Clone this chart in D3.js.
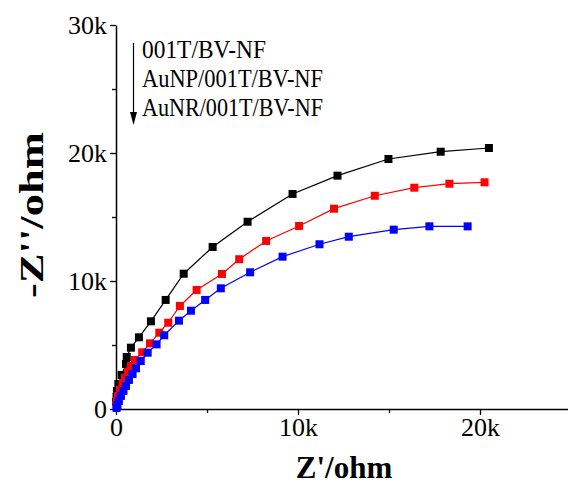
<!DOCTYPE html>
<html>
<head>
<meta charset="utf-8">
<script src="https://cdn.jsdelivr.net/npm/d3@7"></script>
<style>
  html, body { margin: 0; padding: 0; background: #fff; }
  svg { display: block; }
  text { font-family: "Liberation Serif", "Times New Roman", serif; }
</style>
</head>
<body>
<script>
// ---- Data (Z' in ohm, -Z'' in ohm) ----
const seriesNames = ["001T/BV-NF", "AuNP/001T/BV-NF", "AuNR/001T/BV-NF"];
const seriesColors = ["#000000", "#ff0000", "#0000ff"];

const blackX = [20490, 17840, 14970, 12170, 9700, 7230, 5310, 3720, 2730, 1920, 1260, 820, 590, 550, 310, 130, 50, 30, 10];
const blackY = [20390, 20100, 19530, 18230, 16800, 14630, 12660, 10570, 8520, 6850, 5600, 4790, 4060, 3520, 2660, 1950, 1400, 940, 550];

const redX = [20250, 18320, 16390, 14220, 11980, 10060, 8250, 6770, 5820, 4430, 3510, 2870, 2380, 1870, 1440, 1040, 820, 660, 490, 360, 220, 110, 50, 30];
const redY = [17710, 17600, 17290, 16660, 15650, 14300, 13130, 11700, 10550, 9300, 8050, 6740, 5960, 5130, 4430, 3830, 3360, 2890, 2420, 1950, 1480, 1020, 630, 310];

const blueX = [19320, 17220, 15260, 12790, 11180, 9150, 7370, 5760, 4900, 4120, 3460, 2650, 2230, 1740, 1360, 1100, 910, 710, 550, 410, 270, 160, 80, 30];
const blueY = [14270, 14270, 14010, 13460, 12870, 11900, 10680, 9430, 8520, 7680, 6900, 5760, 5050, 4400, 3750, 3180, 2730, 2270, 1800, 1410, 1020, 630, 310, 80];

const xTicks = [0, 10000, 20000];
const xMinorTicks = [5000, 15000];
const yTicks = [0, 10000, 20000, 30000];
const yMinorTicks = [5000, 15000, 25000];
const xTitle = "Z'/ohm";
const yTitle = "-Z''/ohm";

const W = 568, H = 484;
const svg = d3.select("body").append("svg").attr("width", W).attr("height", H);

const x = d3.scaleLinear().domain([0, 25000]).range([116, 571]);
const y = d3.scaleLinear().domain([0, 30000]).range([409, 25]);
const fmt = d => d === 0 ? "0" : (d / 1000) + "k";

// axes
const xAxis = svg.append("g").attr("transform", `translate(0,${y(0)})`)
  .call(d3.axisBottom(x).tickValues(xTicks).tickFormat(fmt).tickSize(6).tickSizeOuter(0).tickPadding(3));
const xMinor = svg.append("g").attr("transform", `translate(0,${y(0)})`)
  .call(d3.axisBottom(x).tickValues(xMinorTicks).tickFormat("").tickSize(4).tickSizeOuter(0));
const yAxis = svg.append("g").attr("transform", `translate(${x(0)},0)`)
  .call(d3.axisLeft(y).tickValues(yTicks).tickFormat(fmt).tickSize(6).tickSizeOuter(0).tickPadding(3));
const yMinor = svg.append("g").attr("transform", `translate(${x(0)},0)`)
  .call(d3.axisLeft(y).tickValues(yMinorTicks).tickFormat("").tickSize(4).tickSizeOuter(0));

[xAxis, xMinor, yAxis, yMinor].forEach(g => {
  g.selectAll("path.domain").attr("stroke", "#000").attr("stroke-width", 1.5);
  g.selectAll(".tick line").attr("stroke", "#000").attr("stroke-width", 1.3);
  g.selectAll(".tick text").attr("font-family", "Liberation Serif").attr("font-size", 26).attr("fill", "#000");
});
xMinor.select("path.domain").remove();
yMinor.select("path.domain").remove();

// series
const allX = [blackX, redX, blueX];
const allY = [blackY, redY, blueY];
const line = d3.line().x(d => x(d[0])).y(d => y(d[1]));
const ms = 8;
allX.forEach((xs, i) => {
  const pts = xs.map((v, j) => [v, allY[i][j]]);
  const g = svg.append("g");
  g.append("path").datum(pts).attr("d", line).attr("fill", "none")
    .attr("stroke", seriesColors[i]).attr("stroke-width", 1.2);
  g.selectAll("rect").data(pts).join("rect")
    .attr("x", d => x(d[0]) - ms / 2).attr("y", d => y(d[1]) - ms / 2)
    .attr("width", ms).attr("height", ms).attr("fill", seriesColors[i]);
});

// legend
const legX = 142, legY0 = 58, legDy = 29;
const legWidths = [124, 181, 181];
seriesNames.forEach((n, i) => {
  svg.append("text").attr("x", legX).attr("y", legY0 + i * legDy)
    .attr("font-size", 26).attr("fill", "#000")
    .attr("textLength", legWidths[i]).attr("lengthAdjust", "spacingAndGlyphs")
    .text(n);
});
// arrow
svg.append("line").attr("x1", 133.5).attr("x2", 133.5).attr("y1", 43).attr("y2", 119)
  .attr("stroke", "#000").attr("stroke-width", 1.2);
svg.append("path").attr("d", "M130,112 L137,112 L133.5,125 Z").attr("fill", "#000");

// titles
svg.append("text").attr("x", 344).attr("y", 478).attr("text-anchor", "middle")
  .attr("font-size", 31).attr("font-weight", "bold").text(xTitle);
svg.append("text").attr("transform", `translate(43,215) rotate(-90)`)
  .attr("text-anchor", "middle").attr("font-size", 33).attr("font-weight", "bold")
  .attr("textLength", 166).attr("lengthAdjust", "spacingAndGlyphs").text(yTitle);
</script>
</body>
</html>
